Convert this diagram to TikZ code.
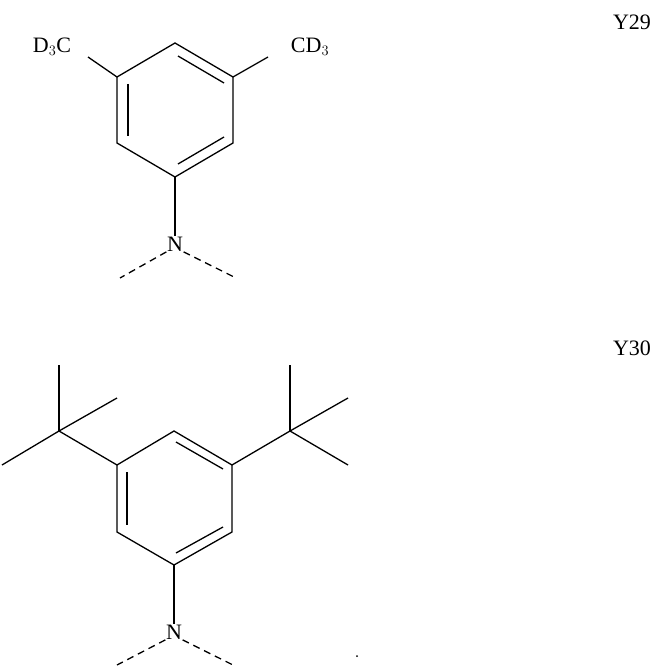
\documentclass[tikz,border=0pt]{standalone}
\usepackage{fontspec}
\setmainfont{Liberation Serif}
\begin{document}
\begin{tikzpicture}[x=1pt,y=-1pt,line width=1.3pt,
  lbl/.style={inner sep=0pt,font=\fontsize{22}{22}\selectfont},
  dsh/.style={dashed,dash pattern=on 7pt off 5pt}]
\useasboundingbox (0,0) rectangle (656,666);
% ---- Y29
\coordinate (t) at (175,43); \coordinate (ur) at (233,77); \coordinate (lr) at (233,143);
\coordinate (b) at (175,177); \coordinate (ll) at (117,143); \coordinate (ul) at (117,77);
\draw (t)--(ur)--(lr)--(b)--(ll)--(ul)--cycle;
\draw (128,84)--(128,136);
\draw (178,56)--(224,83);
\draw (178,164)--(224,137);
\node[lbl] (n1) at (175,244) {N};
\draw (b)--(n1.north);
\coordinate (d1) at (120,278); \coordinate (d2) at (236,278);
\draw[dsh] (n1.south west)--(d1); \draw[dsh] (n1.south east)--(d2);
\node[lbl] (l1) at (52,47) {D$_3$C};
\node[lbl] (r1) at (310,47) {CD$_3$};
\draw (ul)--(88,57); \draw (ur)--(268,57);
\node[lbl] (y29) at (632,22) {Y29};
% ---- Y30
\coordinate (T) at (174,431); \coordinate (UR) at (232,465); \coordinate (LR) at (232,532);
\coordinate (B) at (174,565); \coordinate (LL) at (117,532); \coordinate (UL) at (117,465);
\draw (T)--(UR)--(LR)--(B)--(LL)--(UL)--cycle;
\draw (127,472)--(127,525);
\draw (176,442)--(223,469);
\draw (176,553)--(223,527);
\coordinate (cl) at (59,431); \coordinate (cr) at (290,431);
\draw (UL)--(cl); \draw (cl)--(59,365); \draw (cl)--(2,465); \draw (cl)--(117,398);
\draw (UR)--(cr); \draw (cr)--(290,365); \draw (cr)--(348,398); \draw (cr)--(348,465);
\node[lbl] (n2) at (174,632) {N};
\draw (B)--(n2.north);
\coordinate (e1) at (117,665); \coordinate (e2) at (233,665);
\draw[dsh] (n2.south west)--(e1); \draw[dsh] (n2.south east)--(e2);
\fill (357,656) circle (1pt);
\node[lbl] (y30) at (632,348) {Y30};
\end{tikzpicture}
\end{document}
